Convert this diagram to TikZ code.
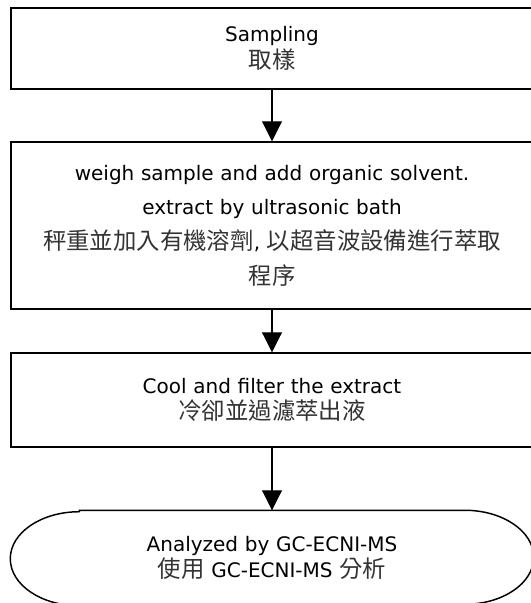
\documentclass[tikz,border=0pt]{standalone}
\usepackage{fontspec}
\setmainfont{DejaVu Sans}
\newfontfamily\cjk[Scale=1.17]{Noto Sans CJK TC}
\usetikzlibrary{arrows.meta}
\newcommand{\zh}[1]{{\cjk\color{black!80}#1}}
\tikzset{
  stepbox/.style={draw, line width=1.1pt, minimum width=391.5pt, text width=380pt,
    align=center, inner sep=0pt, font=\fontsize{15}{20}\selectfont},
  endbox/.style={stepbox, draw=none},
  flow/.style={-{Triangle[width=15pt,length=15pt]}, line width=0.8pt}
}
\begin{document}
\begin{tikzpicture}[x=0.75pt,y=-0.75pt]
    \useasboundingbox (0,0) rectangle (531,603);
    \node[stepbox, minimum height=60.75pt] (sample) at (272,48.5) {Sampling\\\zh{取樣}};
    \node[stepbox, minimum height=125.25pt, font=\fontsize{15}{26}\selectfont] (extract) at (272,225.5)
        {weigh sample and add organic solvent.\\extract by ultrasonic bath\\
         \zh{秤重並加入有機溶劑}, \zh{以超音波設備進行萃取}\\\zh{程序}};
    \node[stepbox, minimum height=70.5pt] (filter) at (272,400) {Cool and filter the extract\\\zh{冷卻並過濾萃出液}};
    \node[endbox, minimum height=70.5pt] (analyse) at (272,558) {Analyzed by GC-ECNI-MS\\\zh{使用} GC-ECNI-MS \zh{分析}};
    \draw[line width=1.1pt] ([xshift=51.75pt]analyse.north west) -- ([xshift=-51.75pt]analyse.north east)
        arc[start angle=90,end angle=-90,x radius=51.75pt,y radius=35.25pt]
        -- ([xshift=51.75pt]analyse.south west)
        arc[start angle=270,end angle=90,x radius=51.75pt,y radius=35.25pt] -- cycle;
    \draw[flow] (sample) -- (extract);
    \draw[flow] (extract) -- (filter);
    \draw[flow] (filter) -- (analyse);
\end{tikzpicture}
\end{document}
